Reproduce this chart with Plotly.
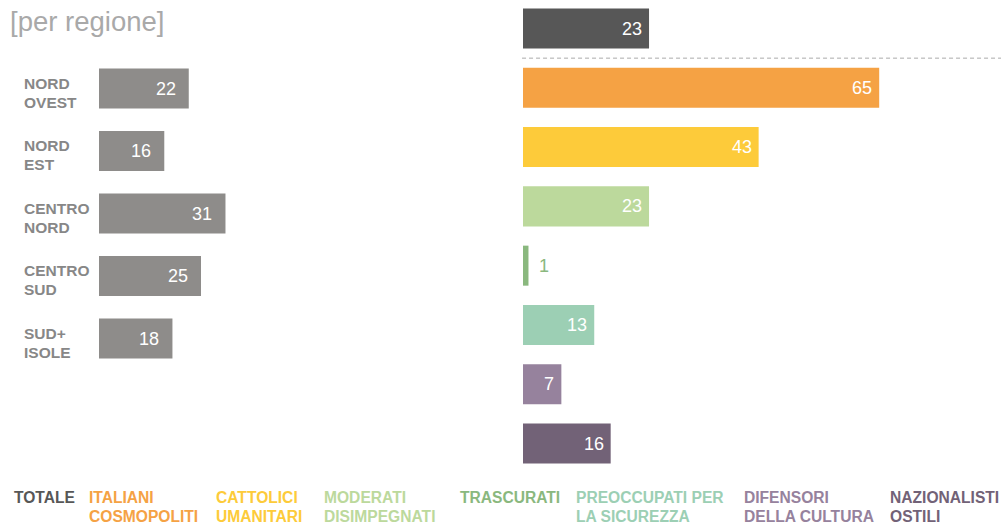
import plotly.graph_objects as go

# ---- data ----
regions = ["NORD<br>OVEST", "NORD<br>EST", "CENTRO<br>NORD", "CENTRO<br>SUD", "SUD+<br>ISOLE"]
region_values = [22, 16, 31, 25, 18]

segments = ["TOTALE", "ITALIANI<br>COSMOPOLITI", "CATTOLICI<br>UMANITARI",
            "MODERATI<br>DISIMPEGNATI", "TRASCURATI", "PREOCCUPATI PER<br>LA SICUREZZA",
            "DIFENSORI<br>DELLA CULTURA", "NAZIONALISTI<br>OSTILI"]
segment_values = [23, 65, 43, 23, 1, 13, 7, 16]
segment_colors = ["#575757", "#f5a244", "#fdcb3a", "#bcd99c", "#8ab87e",
                  "#9ccfb4", "#96829d", "#726277"]
legend_x_px = [12, 87, 214, 322, 458, 574, 742, 888]

title_text = "[per regione]"
region_color = "#8e8c8a"

W, H = 1001, 526
FONT = "Liberation Sans, Arial, Helvetica, sans-serif"

fig = go.Figure()

fig.add_trace(go.Bar(
    y=regions, x=region_values, orientation="h",
    xaxis="x", yaxis="y", width=0.64,
    marker=dict(color=region_color, line=dict(width=0)),
    hoverinfo="skip", showlegend=False,
))
fig.add_trace(go.Bar(
    y=segments, x=segment_values, orientation="h",
    xaxis="x2", yaxis="y2", width=0.675,
    marker=dict(color=segment_colors, line=dict(width=0)),
    hoverinfo="skip", showlegend=False,
))

annotations = []
# title
annotations.append(dict(text=title_text, xref="paper", yref="paper", x=8 / W, y=1 - 4 / H,
                        xanchor="left", yanchor="top", showarrow=False,
                        font=dict(family=FONT, size=27.5, color="#a9a9a9")))
# region labels and values
for r, v in zip(regions, region_values):
    for i, line in enumerate(r.split("<br>")):
        annotations.append(dict(text="<b>" + line + "</b>", xref="paper", yref="y", x=22 / W, y=r,
                                xanchor="left", yanchor="middle", align="left", showarrow=False,
                                yshift=5.5 - 19 * i,
                                font=dict(family=FONT, size=15.5, color="#878787")))
    annotations.append(dict(text=str(v), xref="x", yref="y", x=v, y=r,
                            xanchor="right", yanchor="middle", showarrow=False,
                            xshift=-11, font=dict(family=FONT, size=18, color="white")))
# segment values
for s, v, c in zip(segments, segment_values, segment_colors):
    if v < 5:
        annotations.append(dict(text=str(v), xref="x2", yref="y2", x=v, y=s,
                                xanchor="left", yanchor="middle", showarrow=False,
                                xshift=9, font=dict(family=FONT, size=18, color=c)))
    else:
        annotations.append(dict(text=str(v), xref="x2", yref="y2", x=v, y=s,
                                xanchor="right", yanchor="middle", showarrow=False,
                                xshift=-5, font=dict(family=FONT, size=18, color="white")))
# bottom legend labels
for s, c, px in zip(segments, segment_colors, legend_x_px):
    for i, line in enumerate(s.split("<br>")):
        annotations.append(dict(text="<b>" + line + "</b>", xref="paper", yref="paper",
                                x=px / W, y=1 - (486.5 + 19 * i) / H, xanchor="left", yanchor="top",
                                align="left", showarrow=False,
                                font=dict(family=FONT, size=15.6, color=c)))

shapes = [dict(type="line", xref="x2 domain", yref="y2", x0=-0.002, x1=1, y0=0.5, y1=0.5,
               line=dict(color="#aaaaaa", width=1, dash="4px,3px"))]

fig.update_layout(
    width=W, height=H,
    margin=dict(l=0, r=0, t=0, b=0),
    paper_bgcolor="white", plot_bgcolor="white",
    xaxis=dict(domain=[99 / W, 0.5], range=[0, (0.5 * W - 99) / 4.08], visible=False),
    yaxis=dict(domain=[0, 1], range=[7.0, -1.416], visible=False, anchor="x"),
    xaxis2=dict(domain=[523 / W, 1], range=[0, 478 / 5.48], visible=False, anchor="y2"),
    yaxis2=dict(domain=[0, 1], range=[8.391, -0.4807], visible=False, anchor="x2"),
    annotations=annotations, shapes=shapes,
    font=dict(family=FONT),
)

fig.write_html("out.html", config={"displayModeBar": False},
               post_script="document.body.style.margin='0';document.body.style.overflow='hidden';")
